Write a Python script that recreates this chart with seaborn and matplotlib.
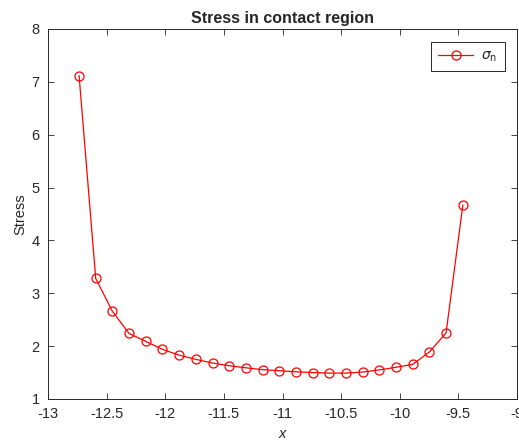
import matplotlib
matplotlib.use("Agg")
import matplotlib.pyplot as plt
import seaborn as sns
import numpy as np
import pandas as pd

x_vals = [-12.735, -12.593, -12.451, -12.309, -12.166, -12.024, -11.882, -11.739,
          -11.597, -11.455, -11.312, -11.170, -11.028, -10.886, -10.743, -10.601,
          -10.459, -10.316, -10.174, -10.032, -9.889, -9.747, -9.605, -9.462]
stress = [7.12, 3.28, 2.66, 2.24, 2.09, 1.94, 1.83, 1.75,
          1.68, 1.63, 1.59, 1.555, 1.535, 1.515, 1.50, 1.49,
          1.49, 1.51, 1.55, 1.60, 1.655, 1.89, 2.25, 4.67]
series_label = r"$\sigma_\mathrm{n}$"

sns.set_style("ticks")
plt.rcParams['font.family'] = ['Liberation Sans', 'DejaVu Sans']
plt.rcParams['mathtext.fontset'] = 'dejavusans'

df = pd.DataFrame({"x": x_vals, "Stress": stress})

fig = plt.figure(figsize=(5.19, 4.41), dpi=100)
ax = fig.add_axes([48/519, 1 - 399/441, (517-48)/519, (399-29)/441])

sns.lineplot(data=df, x="x", y="Stress", ax=ax, color="red", linewidth=0.9,
             marker="o", markersize=6.5, markerfacecolor="none",
             markeredgecolor="red", markeredgewidth=0.9, label=series_label)

ax.set_xlim(-13, -9)
ax.set_ylim(1, 8)
ax.set_xticks(np.arange(-13, -8.9, 0.5))
ax.set_xticklabels(["-13", "-12.5", "-12", "-11.5", "-11", "-10.5", "-10", "-9.5", "-9"])
ax.set_yticks(range(1, 9))
ax.tick_params(direction="in", top=True, right=True, length=4, width=0.6,
               labelsize=10.5, colors="#262626", pad=6)
for s in ax.spines.values():
    s.set_visible(True)
    s.set_linewidth(0.7)
    s.set_color("#262626")

ax.set_xlabel("x", fontsize=10.5, style="italic", color="#262626", labelpad=4)
ax.set_ylabel("Stress", fontsize=10.5, color="#262626", labelpad=3)
ax.set_title("Stress in contact region", fontsize=11.5, fontweight="bold", pad=4)

leg = ax.legend(loc="upper right", fontsize=10, frameon=True, fancybox=False,
                edgecolor="#262626", framealpha=1, handlelength=2.5,
                borderaxespad=0.9, borderpad=0.5, handletextpad=0.6)
leg.get_frame().set_linewidth(0.7)

fig.savefig("out.png", dpi=100)
